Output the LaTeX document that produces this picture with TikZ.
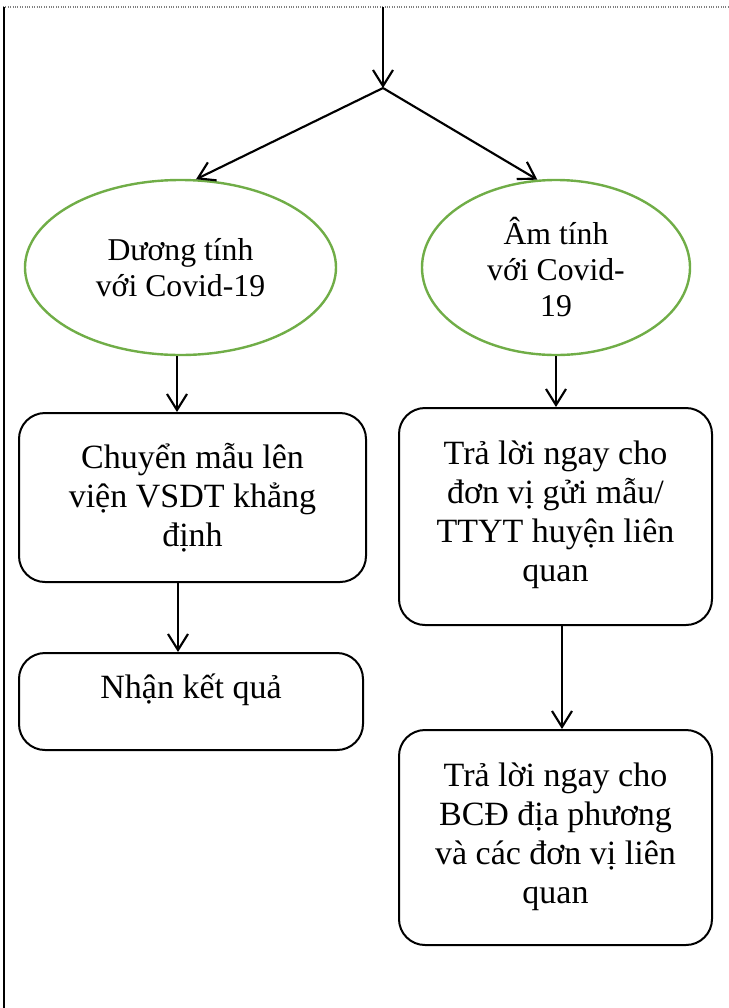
\documentclass[tikz,border=0pt]{standalone}
\usepackage{fontspec}
\setmainfont{Liberation Serif}
\usetikzlibrary{shapes.geometric, arrows.meta, calc}

\begin{document}
\begin{tikzpicture}[x=0.75pt, y=-0.75pt,
    flowarrow/.style={line width=1.6pt, -{Straight Barb[length=12pt, width=15pt]}},
    resultellipse/.style={ellipse, draw=ellipsegreen, line width=1.8pt, inner sep=0pt, align=center, font=\fontsize{23.8pt}{27pt}\selectfont},
    stepbox/.style={rectangle, draw, line width=1.5pt, rounded corners=19.5pt, inner sep=0pt, align=center, font=\fontsize{25.5pt}{29.25pt}\selectfont}]
        % Define colors for the result ellipses
        \definecolor{ellipsegreen}{RGB}{112,173,71}

        \useasboundingbox (0,0) rectangle (729,1008);

        % Draw the page frame
        \draw[gray, densely dotted, line width=0.8pt] (3,7) -- (729,7);
        \draw[line width=1.6pt] (4,7) -- (4,1008);

        % Draw the two test results
        \node[resultellipse, minimum width=233.25pt, minimum height=131.25pt] (duong) at (180.5,267.5) {Dương tính\\với Covid-19};
        \node[resultellipse, minimum width=201pt, minimum height=131.25pt] (am) at (556,267.5) {Âm tính\\với Covid-\\19};

        % Draw the steps for each result
        \node[stepbox, minimum width=260.25pt, minimum height=126.75pt] (chuyen) at (192.5,497.5) {Chuyển mẫu lên\\viện VSDT khẳng\\định};
        \node[stepbox, minimum width=258pt, minimum height=72.75pt, text height=19pt, text depth=24pt] (ketqua) at (191,701.5) {Nhận kết quả};
        \node[stepbox, minimum width=234.75pt, minimum height=162.75pt, text depth=8pt] (traloi) at (555.5,516.5) {Trả lời ngay cho\\đơn vị gửi mẫu/\\TTYT huyện liên\\quan};
        \node[stepbox, minimum width=234.75pt, minimum height=161.25pt, text depth=6pt] (bcd) at (555.5,837.5) {Trả lời ngay cho\\BCĐ địa phương\\và các đơn vị liên\\quan};

        % Draw the arrows
        \coordinate (start) at (383,7);
        \coordinate (split) at (383,88);
        \draw[flowarrow] (start) -- (split);
        \draw[flowarrow] (split) -- (duong.80);
        \draw[flowarrow] (split) -- (am.102);
        \draw[flowarrow] ($(duong.south)+(-3.5,0)$) coordinate (d1) -- (d1 |- chuyen.north);
        \draw[flowarrow] ($(chuyen.south)+(-14.5,0)$) coordinate (c1) -- (c1 |- ketqua.north);
        \draw[flowarrow] (am.south) -- (am.south |- traloi.north);
        \draw[flowarrow] ($(traloi.south)+(6.5,0)$) coordinate (t1) -- (t1 |- bcd.north);

    \end{tikzpicture}
\end{document}
